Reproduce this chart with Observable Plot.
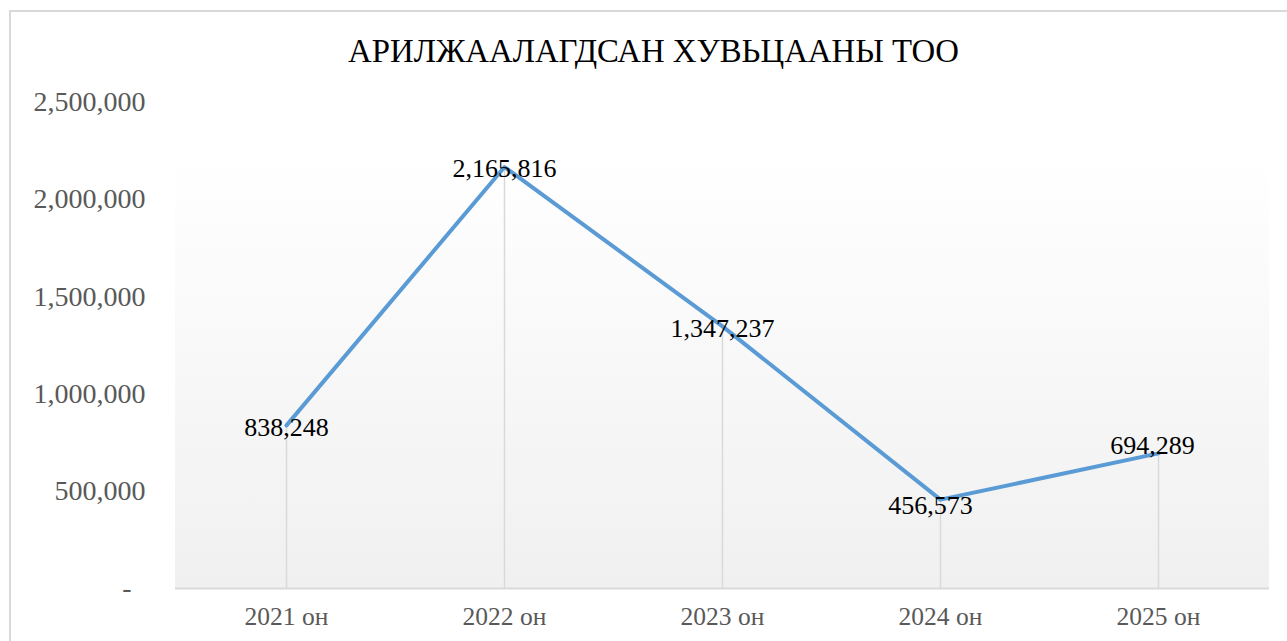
<!DOCTYPE html>
<html>
<head>
<meta charset="utf-8">
<script src="https://cdn.jsdelivr.net/npm/d3@7"></script>
<script src="https://cdn.jsdelivr.net/npm/@observablehq/plot@0.6"></script>
<style>
  html, body { margin: 0; padding: 0; background: #fff; }
  #wrap { position: relative; width: 1287px; height: 641px; overflow: hidden; }
  #border { position: absolute; left: 9px; top: 10px; width: 1290px; height: 650px;
            border: 2px solid #d9d9d9; box-sizing: border-box; }
  #title { position: absolute; left: 0; top: 31px; width: 1307px; text-align: center;
           font-family: "Liberation Serif", "Times New Roman", serif; font-size: 32.8px;
           color: #000; line-height: 40px; }
  #chart { position: absolute; left: 0; top: 0; }
</style>
</head>
<body>
<div id="wrap">
  <div id="border"></div>
  <div id="title">АРИЛЖААЛАГДСАН ХУВЬЦААНЫ ТОО</div>
  <div id="chart"></div>
</div>
<script>
const years = ["2021 он", "2022 он", "2023 он", "2024 он", "2025 он"];
const shares = [838248, 2165816, 1347237, 456573, 694289];
const yTicks = [0, 500000, 1000000, 1500000, 2000000, 2500000];

const data = years.map((year, i) => ({year, value: shares[i]}));
const fmt = d3.format(",");
const serif = "'Liberation Serif', 'Times New Roman', serif";

// gradient plot-area background (Excel style)
function background(index, scales, values, dims) {
  const ns = "http://www.w3.org/2000/svg";
  const g = document.createElementNS(ns, "g");
  const defs = document.createElementNS(ns, "defs");
  const lg = document.createElementNS(ns, "linearGradient");
  lg.setAttribute("id", "bgGrad");
  lg.setAttribute("x1", "0"); lg.setAttribute("y1", "0");
  lg.setAttribute("x2", "0"); lg.setAttribute("y2", "1");
  [["0%", "#ffffff"], ["100%", "#f0f0f0"]].forEach(([o, c]) => {
    const s = document.createElementNS(ns, "stop");
    s.setAttribute("offset", o); s.setAttribute("stop-color", c);
    lg.appendChild(s);
  });
  defs.appendChild(lg);
  g.appendChild(defs);
  const top = dims.marginTop + 55;
  const bottom = dims.height - dims.marginBottom;
  const r = document.createElementNS(ns, "rect");
  r.setAttribute("x", dims.marginLeft);
  r.setAttribute("y", top);
  r.setAttribute("width", dims.width - dims.marginLeft - dims.marginRight);
  r.setAttribute("height", bottom - top);
  r.setAttribute("fill", "url(#bgGrad)");
  g.appendChild(r);
  return g;
}

const labelStyle = {x: "year", y: "value", text: d => fmt(d.value), fontSize: 26, fill: "#000"};

const chart = Plot.plot({
  width: 1287,
  height: 641,
  marginLeft: 175,
  marginRight: 18,
  marginTop: 101.5,
  marginBottom: 53,
  style: {background: "transparent", fontFamily: serif, overflow: "visible"},
  x: {type: "point", domain: years, padding: 0.5},
  y: {domain: [0, 2500000]},
  marks: [
    background,
    Plot.ruleX(data, {x: "year", y1: 0, y2: "value", stroke: "#d9d9d9", strokeWidth: 1.5}),
    Plot.ruleY([0], {stroke: "#d9d9d9", strokeWidth: 2}),
    Plot.axisY({ticks: yTicks, tickSize: 0, tickPadding: 30, fontSize: 28, fill: "#595959",
      label: null, tickFormat: d => d === 0 ? "-\u00a0\u00a0" : fmt(d)}),
    Plot.axisX({tickSize: 0, tickPadding: 18, fontSize: 25.5, fill: "#595959", label: null}),
    Plot.line(data, {x: "year", y: "value", stroke: "#5B9BD5", strokeWidth: 4,
      strokeLinejoin: "round", strokeLinecap: "round"}),
    Plot.text(data, {...labelStyle, filter: (d, i) => i < 3, dy: 2}),
    Plot.text(data, {...labelStyle, filter: (d, i) => i === 3, dy: 6, dx: -10}),
    Plot.text(data, {...labelStyle, filter: (d, i) => i === 4, dy: -8, dx: -6})
  ]
});
chart.querySelectorAll("text").forEach(t => t.style.fontFamily = serif);
document.getElementById("chart").appendChild(chart);
</script>
</body>
</html>
